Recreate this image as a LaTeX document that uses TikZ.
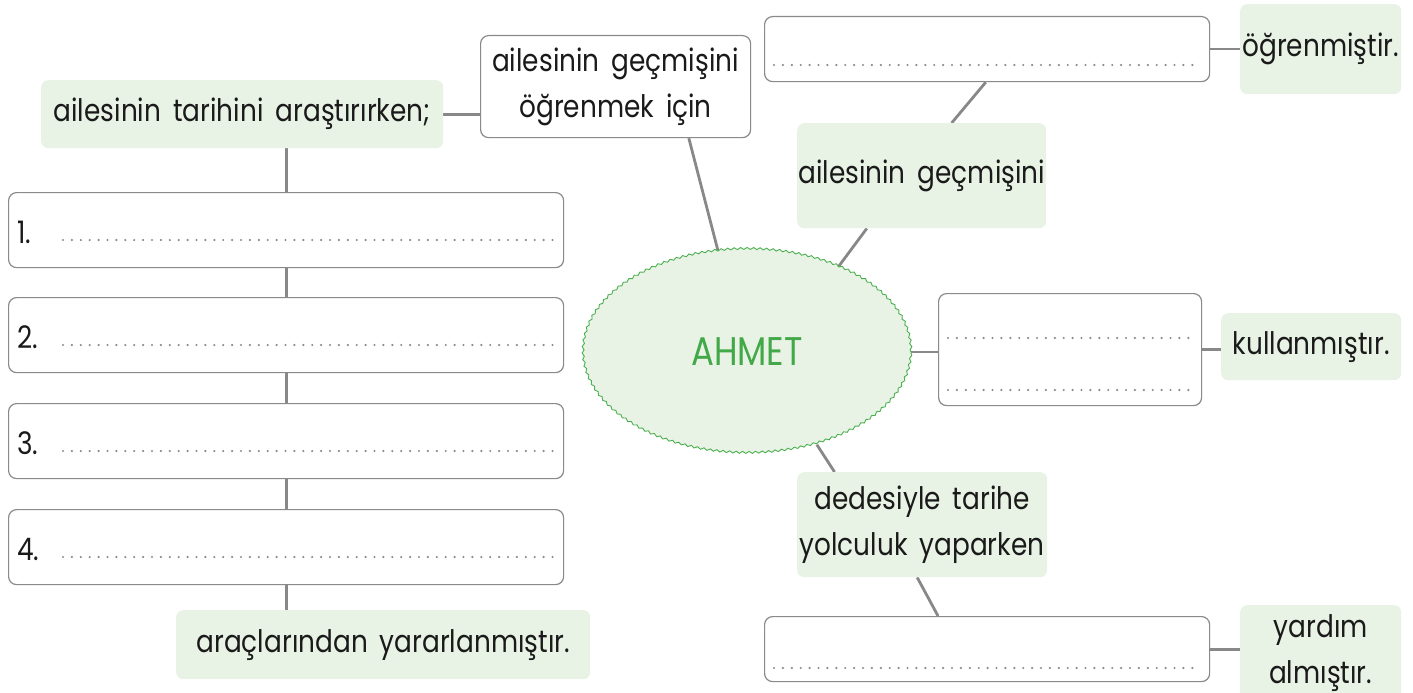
\documentclass[tikz,border=0pt]{standalone}
\usepackage{fontspec}
\setmainfont{Poppins}[FakeStretch=0.85, WordSpace=1.7]
\usetikzlibrary{shapes.geometric,decorations.pathmorphing,backgrounds,calc}
\definecolor{gfill}{HTML}{E8F3E5}
\definecolor{bgray}{HTML}{8A8A8A}
\definecolor{lgray}{HTML}{888888}
\definecolor{dgray}{HTML}{8A8A8A}
\definecolor{egreen}{HTML}{4CB050}
\definecolor{tgreen}{HTML}{43A848}
\definecolor{txt}{HTML}{1A1A1A}
\tikzset{
  gbox/.style={fill=gfill, rounded corners=7pt, inner sep=0pt, align=center, anchor=north west, text=txt},
  wbox/.style={draw=bgray, line width=1.2pt, fill=white, rounded corners=8pt, inner sep=0pt, anchor=north west},
  conn/.style={draw=lgray, line width=2.8pt},
  dotline/.style={draw=dgray, line width=2.4pt, line cap=round, dash pattern=on 0pt off 8.9pt},
  numtxt/.style={anchor=base west, inner sep=0pt, text=txt},
}
\begin{document}
\begin{tikzpicture}[x=1pt,y=-1pt, font=\fontsize{31}{46}\selectfont]
\useasboundingbox (0,0) rectangle (1413,693);
% left column
\node[gbox, minimum width=402pt, minimum height=68pt] (A) at (41,80) {ailesinin tarihini araştırırken;};
\node[wbox, minimum width=270pt, minimum height=102pt, align=center, text=txt] (B) at (480,35) {ailesinin geçmişini\\öğrenmek için};
\node[wbox, minimum width=555pt, minimum height=75pt] (n1) at (8,192) {};
\node[wbox, minimum width=555pt, minimum height=75pt] (n2) at (8,297) {};
\node[wbox, minimum width=555pt, minimum height=75pt] (n3) at (8,403) {};
\node[wbox, minimum width=555pt, minimum height=75pt] (n4) at (8,509) {};
\node[numtxt] (t1) at (17,243) {1.};
\node[numtxt] (t2) at (17,348) {2.};
\node[numtxt] (t3) at (17,454) {3.};
\node[numtxt] (t4) at (17,560) {4.};
\foreach \n/\y in {1/240,2/345,3/451,4/557}{
  \coordinate (d\n a) at (63,\y);
  \coordinate (d\n b) at (555,\y);
  \draw[dotline] (d\n a) -- (d\n b);
}
\node[gbox, minimum width=414pt, minimum height=69pt] (E) at (176,610) {araçlarından yararlanmıştır.};
% centre
\node[ellipse, draw=egreen, line width=0.9pt, fill=gfill, minimum width=328pt, minimum height=204pt,
      decorate, decoration={snake, amplitude=1pt, segment length=6.5pt},
      text=tgreen, font=\fontsize{40}{44}\selectfont] (M) at (747,352) {AHMET};
% right side
\node[wbox, minimum width=445pt, minimum height=65pt] (C) at (764,16) {};
\coordinate (c1) at (774,65); \coordinate (c2) at (1200,65);
\draw[dotline] (c1) -- (c2);
\node[gbox, minimum width=161pt, minimum height=90pt] (Cg) at (1240,4) {öğrenmiştir.};
\node[gbox, minimum width=249pt, minimum height=105pt] (G2) at (797,123) {ailesinin geçmişini};
\node[wbox, minimum width=263pt, minimum height=112pt] (D) at (938,293) {};
\coordinate (e1) at (948,338); \coordinate (e2) at (1193,338);
\coordinate (e3) at (948,390); \coordinate (e4) at (1193,390);
\draw[dotline] (e1) -- (e2);
\draw[dotline] (e3) -- (e4);
\node[gbox, minimum width=180pt, minimum height=67pt] (F) at (1221,313) {kullanmıştır.};
\node[gbox, minimum width=250pt, minimum height=105pt] (H1) at (797,472) {dedesiyle tarihe\\yolculuk yaparken};
\node[wbox, minimum width=445pt, minimum height=65pt] (G) at (764,616) {};
\coordinate (g1) at (774,668); \coordinate (g2) at (1200,668);
\draw[dotline] (g1) -- (g2);
\node[gbox, minimum width=161pt, minimum height=95pt] (H2) at (1240,605) {yardım\\almıştır.};
% connectors
\begin{pgfonlayer}{background}
\draw[conn] (A.east) -- (A.east -| B.west);
\draw[conn] (n1.north |- A.south) -- (n1.north);
\draw[conn] (n1.south) -- (n2.north);
\draw[conn] (n2.south) -- (n3.north);
\draw[conn] (n3.south) -- (n4.north);
\draw[conn] (n4.south) -- (n4.south |- E.north);
\draw[conn] ($(B.south west)!0.77!(B.south east)$) -- (M.106);
\draw[conn] (M.43) -- ($(G2.south west)!0.28!(G2.south east)$);
\draw[conn] ($(G2.north west)!0.62!(G2.north east)$) -- ($(C.south west)!0.497!(C.south east)$);
\draw[conn] (C.east) -- (C.east -| Cg.west);
\draw[conn] (M.east) -- (M.east -| D.west);
\draw[conn] (D.east) -- (D.east -| F.west);
\draw[conn] (M.-53) -- ($(H1.north west)!0.15!(H1.north east)$);
\draw[conn] ($(H1.south west)!0.48!(H1.south east)$) -- ($(G.north west)!0.39!(G.north east)$);
\draw[conn] (G.east) -- (G.east -| H2.west);
\end{pgfonlayer}
\end{tikzpicture}
\end{document}
